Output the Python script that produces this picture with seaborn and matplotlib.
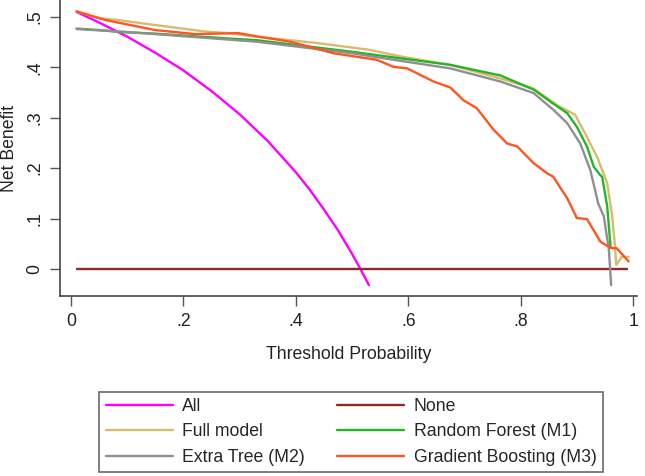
import pandas as pd
import matplotlib
matplotlib.use("Agg")
import matplotlib.pyplot as plt
import seaborn as sns

# threshold grids and net benefit values
all_x = [0.01, 0.05, 0.10, 0.15, 0.20, 0.25, 0.30, 0.35, 0.40, 0.425, 0.45, 0.475,
         0.50, 0.515, 0.53]
all_y = [0.510, 0.489, 0.461, 0.429, 0.394, 0.353, 0.307, 0.254, 0.192, 0.157, 0.118, 0.077,
         0.030, 0.000, -0.032]

none_x = [0.01, 0.99]
none_y = [0.0, 0.0]

full_x = [0.01, 0.05, 0.09, 0.15, 0.24, 0.28, 0.32, 0.44, 0.53, 0.59, 0.675, 0.764,
          0.823, 0.865, 0.897, 0.918, 0.937, 0.954, 0.963, 0.968, 0.970, 0.98, 0.992]
full_y = [0.511, 0.498, 0.493, 0.484, 0.471, 0.468, 0.462, 0.448, 0.435, 0.421, 0.405, 0.378,
          0.358, 0.325, 0.306, 0.262, 0.220, 0.170, 0.104, 0.044, 0.008, 0.024, 0.024]

rf_x = [0.01, 0.05, 0.09, 0.15, 0.27, 0.33, 0.50, 0.586, 0.675, 0.764, 0.823, 0.853,
        0.883, 0.90, 0.918, 0.93, 0.941, 0.945, 0.954, 0.96]
rf_y = [0.477, 0.474, 0.470, 0.467, 0.458, 0.454, 0.431, 0.418, 0.405, 0.384, 0.356, 0.332,
        0.309, 0.282, 0.243, 0.203, 0.187, 0.183, 0.124, 0.044]

et_x = [0.01, 0.09, 0.21, 0.33, 0.50, 0.586, 0.675, 0.764, 0.823, 0.859, 0.883, 0.906,
        0.924, 0.938, 0.948, 0.957, 0.961]
et_y = [0.476, 0.471, 0.461, 0.451, 0.428, 0.413, 0.398, 0.372, 0.349, 0.315, 0.289, 0.249,
        0.196, 0.130, 0.104, 0.038, -0.032]

gb_x = [0.01, 0.061, 0.15, 0.221, 0.298, 0.328, 0.39, 0.467, 0.509, 0.544, 0.574, 0.598,
        0.645, 0.675, 0.698, 0.722, 0.752, 0.776, 0.794, 0.823, 0.847, 0.858, 0.883, 0.90,
        0.918, 0.942, 0.96, 0.971, 0.992]
gb_y = [0.511, 0.494, 0.474, 0.466, 0.468, 0.462, 0.451, 0.428, 0.421, 0.415, 0.401, 0.398,
        0.372, 0.360, 0.335, 0.319, 0.276, 0.249, 0.243, 0.210, 0.190, 0.183, 0.140, 0.101,
        0.099, 0.054, 0.042, 0.041, 0.015]

names = ["All", "None", "Full model", "Random Forest (M1)", "Extra Tree (M2)", "Gradient Boosting (M3)"]
colors = ["#ff00ff", "#8b2b2b", "#d9bb6f", "#27b427", "#8f8f8f", "#ff5520"]
series = [(all_x, all_y), (none_x, none_y), (full_x, full_y), (rf_x, rf_y), (et_x, et_y), (gb_x, gb_y)]

frames = []
for name, (xs, ys) in zip(names, series):
    frames.append(pd.DataFrame({"Threshold": xs, "Net Benefit": ys, "Model": name}))
df = pd.concat(frames, ignore_index=True)

sns.set_theme(style="white")
plt.rcParams["font.family"] = ["Liberation Sans", "DejaVu Sans"]
FS = 12.7

fig = plt.figure(figsize=(6.45, 4.76), dpi=100)
ax = fig.add_axes([60 / 645, 1 - 296 / 476, 577 / 645, 296 / 476])

sns.lineplot(data=df, x="Threshold", y="Net Benefit", hue="Model", hue_order=names,
             palette=dict(zip(names, colors)), estimator=None, sort=False,
             linewidth=1.7, legend=False, ax=ax)

ax.set_xlim(-0.0196, 1.007)
ax.set_ylim(-0.0536, 0.5337)
ax.set_xticks([0, 0.2, 0.4, 0.6, 0.8, 1.0])
ax.set_xticklabels(["0", ".2", ".4", ".6", ".8", "1"])
ax.set_yticks([0, 0.1, 0.2, 0.3, 0.4, 0.5])
ax.set_yticklabels(["0", ".1", ".2", ".3", ".4", ".5"], rotation=90, va="center")
ax.tick_params(axis="both", direction="out", length=7, width=1.0, color="#555555",
               labelsize=FS, labelcolor="#222222", pad=5, bottom=True, left=True)
ax.set_xlabel("Threshold Probability", fontsize=FS, color="#222222", labelpad=12)
ax.set_ylabel("Net Benefit", fontsize=FS, color="#222222")
ax.yaxis.set_label_coords(-42 / 577, 0.5)

for side in ["top", "right"]:
    ax.spines[side].set_visible(False)
for side in ["left", "bottom"]:
    ax.spines[side].set_color("#444444")
    ax.spines[side].set_linewidth(1.2)

# legend in stata row order: two columns
handles = [plt.Line2D([], [], color=c, linewidth=1.7) for c in colors]
order = [0, 2, 4, 1, 3, 5]
leg = fig.legend([handles[i] for i in order], [names[i] for i in order], ncol=2,
                 loc="lower center", bbox_to_anchor=(351 / 645, 4 / 476),
                 fontsize=FS, frameon=True, fancybox=False,
                 handlelength=3.8, handletextpad=0.55, labelspacing=0.48,
                 columnspacing=1.8, borderaxespad=0, borderpad=0.35)
leg.get_frame().set_edgecolor("#444444")
leg.get_frame().set_linewidth(1.2)

fig.savefig("out.png", dpi=100)
